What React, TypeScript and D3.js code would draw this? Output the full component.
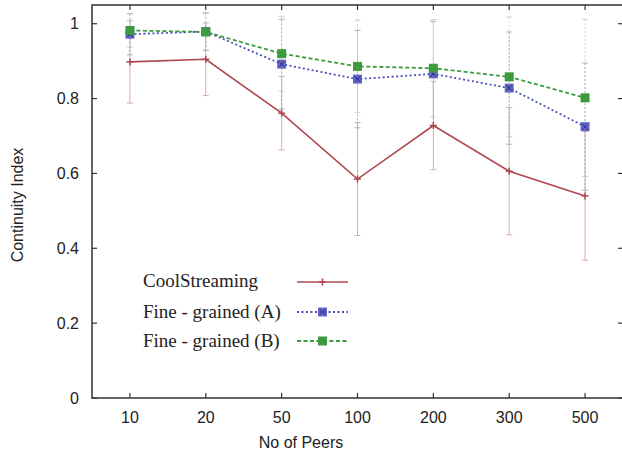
import React from "react";
import * as d3 from "d3";

const categories = ["10", "20", "50", "100", "200", "300", "500"];
const coolValues = [0.898, 0.905, 0.761, 0.585, 0.728, 0.606, 0.540];
const coolErr = [0.11, 0.097, 0.098, 0.151, 0.118, 0.17, 0.172];
const fineAValues = [0.972, 0.979, 0.892, 0.852, 0.866, 0.828, 0.725];
const fineAErr = [0.055, 0.05, 0.12, 0.13, 0.14, 0.15, 0.17];
const fineBValues = [0.982, 0.978, 0.920, 0.886, 0.881, 0.858, 0.802];
const fineBErr = [0.045, 0.05, 0.1, 0.124, 0.13, 0.16, 0.21];
const yTicks = [0, 0.2, 0.4, 0.6, 0.8, 1];
const yTickLabels = ["0", "0.2", "0.4", "0.6", "0.8", "1"];
const seriesNames = ["CoolStreaming", "Fine - grained (A)", "Fine - grained (B)"];

const W = 622, H = 457;
const L = 92, R = 623, T = 5, B = 398;

export default function App() {
  const x = d3.scalePoint<string>().domain(categories).range([L, R]).padding(0.5);
  const y = d3.scaleLinear().domain([0, 1.05]).range([B, T]);
  const line = d3.line<[string, number]>().x(d => x(d[0])!).y(d => y(d[1]));

  const series = [
    { name: seriesNames[0], values: coolValues, err: coolErr, color: "#b0474f", errColor: "#dcaab0", dash: "", errDash: "", marker: "plus" },
    { name: seriesNames[1], values: fineAValues, err: fineAErr, color: "#4a4fc0", errColor: "#9a9aaa", dash: "2,2.5", errDash: "2,2", marker: "sqx" },
    { name: seriesNames[2], values: fineBValues, err: fineBErr, color: "#3d9a3d", errColor: "#a8d0a8", dash: "4,2.5", errDash: "2,2", marker: "sq" },
  ];

  const marker = (kind: string, cx: number, cy: number, color: string, key: string) => {
    if (kind === "plus") {
      return (
        <g key={key} stroke={color} strokeWidth={1.5}>
          <line x1={cx - 3.5} x2={cx + 3.5} y1={cy} y2={cy} />
          <line x1={cx} x2={cx} y1={cy - 3.5} y2={cy + 3.5} />
        </g>
      );
    }
    if (kind === "sqx") {
      return (
        <g key={key}>
          <rect x={cx - 4.5} y={cy - 4.5} width={9} height={9} fill={color} opacity={0.85} />
          <line x1={cx - 3} x2={cx + 3} y1={cy - 3} y2={cy + 3} stroke="#2a2a80" strokeWidth={1} />
          <line x1={cx - 3} x2={cx + 3} y1={cy + 3} y2={cy - 3} stroke="#2a2a80" strokeWidth={1} />
        </g>
      );
    }
    return <rect key={key} x={cx - 4.5} y={cy - 4.5} width={9} height={9} fill={color} />;
  };

  const legendY = [282, 312, 341];
  const legendTextY = [287, 318, 347];
  const sans = "Liberation Sans, Arial, sans-serif";

  return (
    <svg width={W} height={H} style={{ position: "absolute", left: 0, top: 0, background: "#fff" }}>
      {/* error bars */}
      {series.map((s, si) =>
        s.values.map((v, i) => {
          const cx = x(categories[i])!;
          const y1 = y(Math.min(v + s.err[i], 1.04));
          const y2 = y(v - s.err[i]);
          return (
            <g key={`e${si}-${i}`} stroke={s.errColor} strokeWidth={1} opacity={si === 0 ? 1 : 0.75}>
              <line x1={cx} x2={cx} y1={y1} y2={y2} strokeDasharray={s.errDash} />
              <line x1={cx - 3} x2={cx + 3} y1={y1} y2={y1} />
              <line x1={cx - 3} x2={cx + 3} y1={y2} y2={y2} />
            </g>
          );
        })
      )}
      {/* lines */}
      {series.map((s, si) => (
        <path
          key={`l${si}`}
          d={line(categories.map((c, i) => [c, s.values[i]]))!}
          fill="none"
          stroke={s.color}
          strokeWidth={si === 0 ? 1.6 : 1.8}
          strokeDasharray={s.dash}
        />
      ))}
      {/* markers */}
      {series.map((s, si) => s.values.map((v, i) => marker(s.marker, x(categories[i])!, y(v), s.color, `m${si}-${i}`)))}

      {/* frame */}
      <rect x={L} y={T} width={R - L} height={B - T} fill="none" stroke="#333" strokeWidth={1.5} />
      {/* y ticks */}
      {yTicks.map((t, i) => (
        <g key={`yt${i}`}>
          <line x1={L} x2={L + 5} y1={y(t)} y2={y(t)} stroke="#333" strokeWidth={1.2} />
          <line x1={R} x2={R - 5} y1={y(t)} y2={y(t)} stroke="#333" strokeWidth={1.2} />
          <text x={79} y={y(t) + 5.5} textAnchor="end" fontFamily={sans} fontSize={16} fill="#222">
            {yTickLabels[i]}
          </text>
        </g>
      ))}
      {/* x ticks */}
      {categories.map((c, i) => (
        <g key={`xt${i}`}>
          <line x1={x(c)!} x2={x(c)!} y1={B} y2={B - 5} stroke="#333" strokeWidth={1.2} />
          <line x1={x(c)!} x2={x(c)!} y1={T} y2={T + 5} stroke="#333" strokeWidth={1.2} />
          <text x={x(c)!} y={423} textAnchor="middle" fontFamily={sans} fontSize={16} fill="#222">
            {c}
          </text>
        </g>
      ))}
      <text x={301} y={448} textAnchor="middle" fontFamily={sans} fontSize={16} fill="#222">
        No of Peers
      </text>
      <text transform="translate(23,205) rotate(-90)" textAnchor="middle" fontFamily={sans} fontSize={16} fill="#222">
        Continuity Index
      </text>

      {/* legend */}
      {series.map((s, si) => (
        <g key={`lg${si}`}>
          <text x={143} y={legendTextY[si]} fontFamily="Liberation Serif, Times New Roman, serif" fontSize={19} fill="#222">
            {s.name}
          </text>
          <line x1={297} x2={348} y1={legendY[si]} y2={legendY[si]} stroke={s.color} strokeWidth={si === 0 ? 1.6 : 1.8} strokeDasharray={s.dash} />
          {marker(s.marker, 322.5, legendY[si], s.color, `lm${si}`)}
        </g>
      ))}
    </svg>
  );
}
